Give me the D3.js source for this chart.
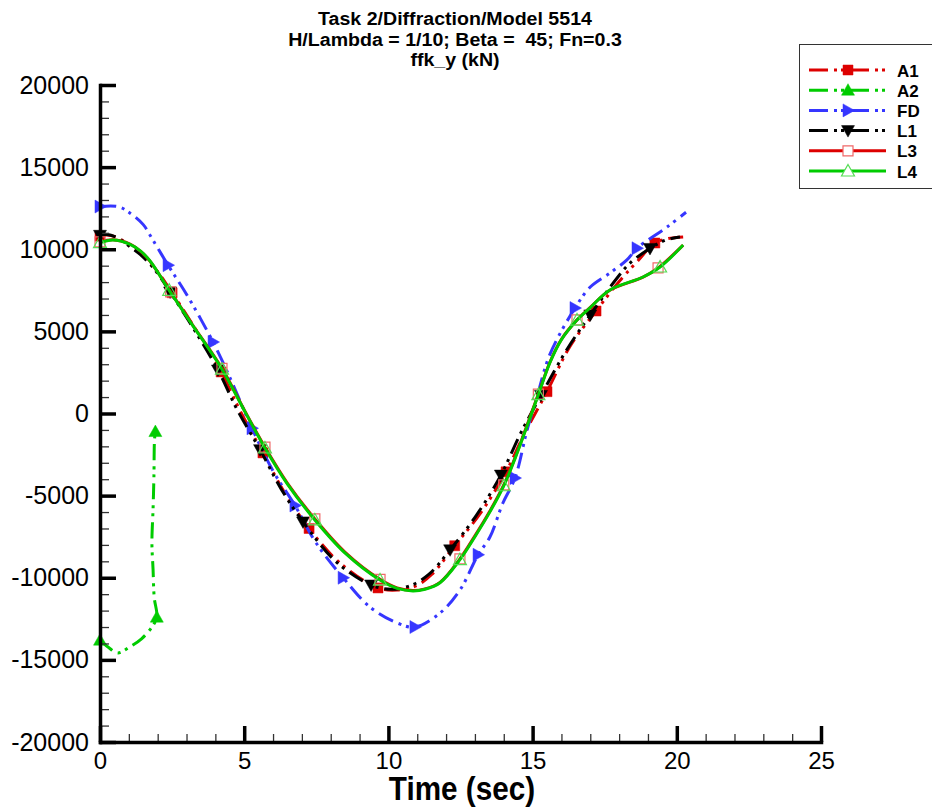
<!DOCTYPE html>
<html><head><meta charset="utf-8">
<script src="https://cdn.jsdelivr.net/npm/d3@7"></script>
<style>
body{margin:0;background:#fff}
svg{display:block}
text{font-family:Arial,"Liberation Sans",Helvetica,sans-serif}
</style>
</head><body>
<svg id="chart" width="932" height="807"></svg>
<script>
// ---------- data ----------
const titleLines = ["Task 2/Diffraction/Model 5514", "H/Lambda = 1/10; Beta =  45; Fn=0.3", "ffk_y (kN)"];
const xLabel = "Time (sec)";
const xTicks = [0, 5, 10, 15, 20, 25];
const yTicks = [-20000, -15000, -10000, -5000, 0, 5000, 10000, 15000, 20000];
const seriesNames = ["A1", "A2", "FD", "L1", "L3", "L4"];

const a1Line = [[0,10800],[0.24,10870],[0.62,10700],[1.04,10200],[1.45,9700],[1.9,8860],[2.5,7350],[3.29,5200],[4.2,2530],[4.85,200],[5.65,-2400],[6.41,-4840],[7.25,-7000],[8.32,-9100],[9.64,-10620],[10.3,-10750],[10.95,-10500],[11.5,-9800],[12.3,-8050],[13.18,-6100],[14.08,-3550],[14.74,-1150],[15.5,1330],[16.3,4100],[17.2,6240],[18.03,8100],[18.6,9200],[19.24,10380],[19.7,10650],[20.22,10750]];
const a1Marks = [[0,10800],[2.5,7350],[4.2,2530],[5.65,-2400],[7.25,-7000],[9.64,-10620],[12.3,-8050],[14.08,-3550],[15.5,1330],[17.2,6240],[19.24,10380]];

const a2Line = [[0,-13800],[0.3,-14250],[0.62,-14580],[1.04,-14200],[1.45,-13700],[1.8,-13000],[1.97,-12400],[1.88,-11200],[1.84,-9500],[1.8,-7900],[1.84,-5800],[1.87,-3800],[1.89,-1600],[1.92,-1100]];
const a2Marks = [[0,-13800],[1.97,-12400],[1.92,-1100]];

const fdLine = [[0,12600],[0.62,12600],[1.0,12250],[1.5,11500],[1.73,10870],[2.36,9030],[3.02,7200],[3.92,4350],[4.5,2200],[5.27,-900],[6.0,-3500],[6.76,-5600],[7.5,-7900],[8.43,-10000],[9.36,-11780],[10.3,-12750],[10.92,-13000],[11.79,-12150],[12.48,-10750],[13.11,-8600],[13.52,-7520],[13.97,-5450],[14.39,-3930],[14.81,-1000],[15.15,1000],[15.6,3600],[16.47,6420],[17.0,7700],[17.68,8550],[18.27,9350],[18.62,10060],[19.66,11350],[20.32,12250]];
const fdMarks = [[0,12600],[2.36,9030],[3.92,4350],[5.27,-900],[6.76,-5600],[8.43,-10000],[10.92,-13000],[13.11,-8600],[14.39,-3930],[16.47,6420],[18.62,10060]];

const l1Line = [[0,10850],[0.24,10900],[0.62,10680],[1.04,10150],[1.45,9600],[1.9,8750],[2.43,7400],[3.2,5300],[4.09,2650],[4.75,250],[5.55,-2200],[6.3,-4650],[7.04,-6600],[8.2,-9050],[9.4,-10440],[10.1,-10700],[10.8,-10450],[11.4,-9800],[12.14,-8300],[13.05,-6200],[13.9,-3750],[14.6,-1150],[15.29,1100],[16.19,3900],[17.0,6000],[17.93,8250],[18.38,9160],[19.07,10050],[19.6,10550],[20.11,10750]];
const l1Marks = [[0,10850],[2.43,7400],[4.09,2650],[5.55,-2200],[7.04,-6600],[9.4,-10440],[12.14,-8300],[13.9,-3750],[15.29,1100],[17.0,6000],[19.07,10050]];

const l3Line = [[0,10450],[0.45,10580],[1.04,10320],[1.4,9880],[1.73,9280],[2.45,7400],[3.2,5420],[4.23,2750],[5.03,120],[5.72,-2050],[6.5,-4250],[7.45,-6420],[8.5,-8450],[9.71,-10100],[10.3,-10620],[10.85,-10780],[11.27,-10680],[11.79,-10280],[12.48,-8850],[13.0,-7450],[13.5,-6000],[14.0,-4350],[14.4,-2650],[14.8,-750],[15.2,1180],[15.6,3120],[16.0,4520],[16.54,5700],[17.0,6460],[17.68,7500],[18.83,8300],[19.35,8860],[20.22,10250]];
const l3Marks = [[0,10450],[2.45,7400],[4.23,2750],[5.72,-2050],[7.45,-6420],[9.71,-10100],[12.48,-8850],[14.0,-4350],[15.2,1180],[16.54,5700],[19.35,8860]];

const l4Line = [[0,10400],[0.45,10560],[1.04,10300],[1.4,9900],[1.73,9300],[2.4,7500],[3.2,5400],[4.23,2700],[5.03,100],[5.72,-2100],[6.5,-4300],[7.45,-6480],[8.5,-8500],[9.71,-10140],[10.3,-10650],[10.85,-10800],[11.27,-10700],[11.79,-10300],[12.48,-8900],[13.0,-7500],[13.5,-6050],[14.0,-4400],[14.4,-2700],[14.8,-800],[15.2,1150],[15.6,3100],[16.0,4500],[16.54,5690],[17.0,6450],[17.68,7520],[18.83,8310],[19.42,8920],[20.22,10260]];
const l4Marks = [[0,10400],[2.4,7500],[4.23,2700],[5.72,-2100],[7.45,-6480],[9.71,-10140],[12.48,-8900],[14.0,-4400],[15.2,1150],[16.54,5690],[19.42,8920]];

// ---------- styles ----------
const RED = "#dd0000", GREEN = "#00cc00", BLUE = "#3636ff", BLACK = "#000000";
const DASH = "16,6,3,5,3,6";
const series = [
  {name: seriesNames[0], line: a1Line, marks: a1Marks, color: RED,   dash: DASH, sym: "sq", fill: RED,   mstroke: RED},
  {name: seriesNames[1], line: a2Line, marks: a2Marks, color: GREEN, dash: DASH, sym: "tu", fill: GREEN, mstroke: GREEN},
  {name: seriesNames[2], line: fdLine, marks: fdMarks, color: BLUE,  dash: DASH, sym: "tr", fill: BLUE,  mstroke: BLUE},
  {name: seriesNames[3], line: l1Line, marks: l1Marks, color: BLACK, dash: DASH, sym: "td", fill: BLACK, mstroke: BLACK},
  {name: seriesNames[4], line: l3Line, marks: l3Marks, color: RED,   dash: null, sym: "sq", fill: "none", mstroke: "#f06868"},
  {name: seriesNames[5], line: l4Line, marks: l4Marks, color: GREEN, dash: null, sym: "tu", fill: "none", mstroke: "#55dd55"}
];
const symPath = {
  sq: "M-5,-5H5V5H-5Z",
  tu: "M0,-6.5L6.5,5L-6.5,5Z",
  td: "M0,6.5L6.5,-5L-6.5,-5Z",
  tr: "M6.5,0L-5,-6.5L-5,6.5Z"
};

// ---------- chart ----------
const svg = d3.select("#chart");
const x = d3.scaleLinear().domain([0, 25]).range([100, 821]);
const y = d3.scaleLinear().domain([-20000, 20000]).range([742, 85]);

// title
svg.append("g").selectAll("text").data(titleLines).join("text")
  .attr("transform", (d, i) => `translate(455,${25 + i * 20.5}) scale(1.12,1)`)
  .attr("text-anchor", "middle")
  .style("font-size", "17.5px").style("font-weight", "bold").style("white-space", "pre")
  .text(d => d);

// series
const lineGen = d3.line().x(d => x(d[0])).y(d => y(d[1])).curve(d3.curveCatmullRom.alpha(0.5));
const gS = svg.append("g");
series.forEach(s => {
  gS.append("path").datum(s.line)
    .attr("d", lineGen)
    .attr("fill", "none").attr("stroke", s.color).attr("stroke-width", 3)
    .attr("stroke-dasharray", s.dash).attr("stroke-linejoin", "round");
  gS.append("g").selectAll("path").data(s.marks).join("path")
    .attr("transform", d => `translate(${x(d[0])},${y(d[1])})`)
    .attr("d", symPath[s.sym])
    .attr("fill", s.fill).attr("stroke", s.mstroke).attr("stroke-width", s.fill === "none" ? 1.2 : 0.5);
});

// axes
const fmt = d => String(d);
const yMinor = d3.range(-20000, 20001, 1000).filter(v => v % 5000 !== 0);
const xMinor = d3.range(0, 25.01, 1).filter(v => v % 5 !== 0);

const gyMinor = svg.append("g").attr("transform", "translate(100,0)")
  .call(d3.axisLeft(y).tickValues(yMinor).tickSize(-9).tickSizeOuter(0).tickFormat(""));
gyMinor.select(".domain").remove();
gyMinor.selectAll("line").attr("stroke", "#333").attr("stroke-width", 1.3);

const gxMinor = svg.append("g").attr("transform", "translate(0,742)")
  .call(d3.axisBottom(x).tickValues(xMinor).tickSize(-8).tickSizeOuter(0).tickFormat(""));
gxMinor.select(".domain").remove();
gxMinor.selectAll("line").attr("stroke", "#333").attr("stroke-width", 1.3);

const gy = svg.append("g").attr("transform", "translate(100,0)")
  .call(d3.axisLeft(y).tickValues(yTicks).tickSize(-16).tickSizeOuter(0).tickPadding(11).tickFormat(fmt));
gy.select(".domain").attr("stroke-width", 3.5).attr("stroke-linecap", "square");
gy.selectAll(".tick line").attr("stroke-width", 3.5);
gy.selectAll("text").style("font-size", "25px").attr("font-family", null).attr("fill", "#000");

const gx = svg.append("g").attr("transform", "translate(0,742)")
  .call(d3.axisBottom(x).tickValues(xTicks).tickSize(-16).tickSizeOuter(0).tickPadding(10).tickFormat(fmt));
gx.select(".domain").attr("stroke-width", 3.5).attr("stroke-linecap", "square");
gx.selectAll(".tick line").attr("stroke-width", 3.5);
gx.selectAll("text").style("font-size", "24px").attr("font-family", null).attr("fill", "#000");

svg.append("text").attr("transform", "translate(462,800) scale(0.9,1)").attr("text-anchor", "middle")
  .style("font-size", "33px").style("font-weight", "bold").text(xLabel);

// legend
const lg = svg.append("g");
lg.append("rect").attr("x", 799.5).attr("y", 44.5).attr("width", 150).attr("height", 144)
  .attr("fill", "#fff").attr("stroke", "#333").attr("stroke-width", 1);
const ly = d3.scalePoint().domain(seriesNames).range([70, 171]);
series.forEach(s => {
  const yy = ly(s.name);
  lg.append("line").attr("x1", 809).attr("x2", 886).attr("y1", yy).attr("y2", yy)
    .attr("stroke", s.color).attr("stroke-width", 3).attr("stroke-dasharray", s.dash ? "19,6,3,4,3,6" : null);
  lg.append("path").attr("transform", `translate(848,${yy})`).attr("d", symPath[s.sym])
    .attr("fill", s.fill === "none" ? "#fff" : s.fill).attr("stroke", s.mstroke).attr("stroke-width", s.fill === "none" ? 1.2 : 0.5);
  lg.append("text").attr("x", 897).attr("y", yy + 6.5).style("font-size", "17px").style("font-weight", "bold").text(s.name);
});
</script>
</body></html>
